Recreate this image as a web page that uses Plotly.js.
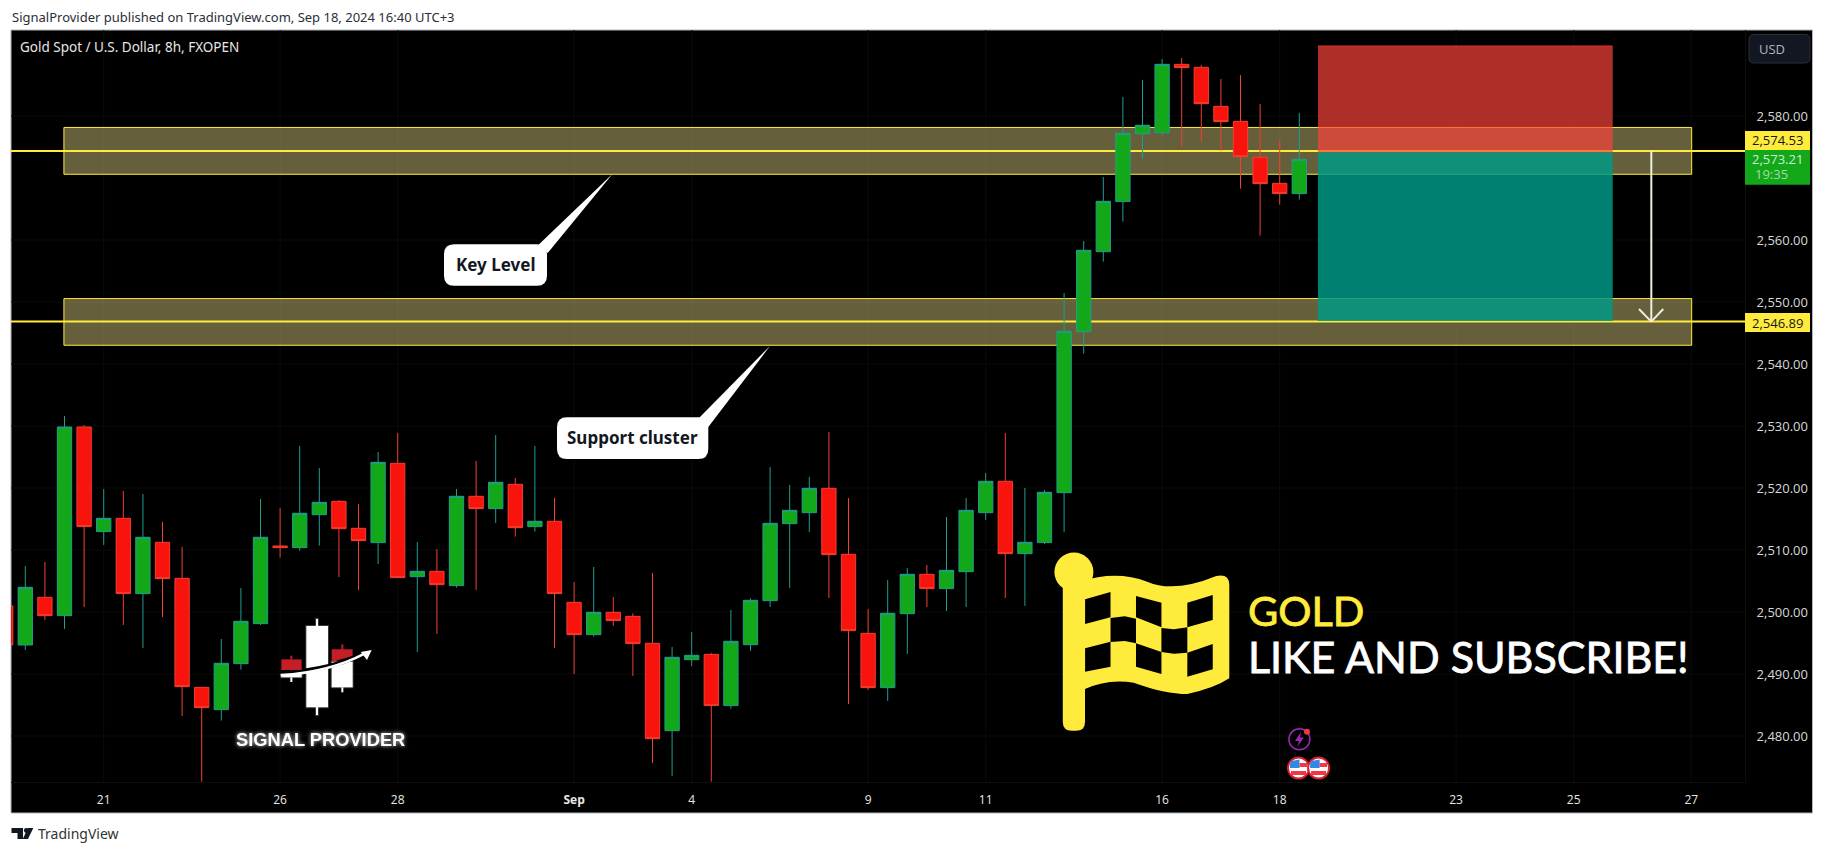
<!DOCTYPE html>
<html><head><meta charset="utf-8">
<script src="https://cdn.plot.ly/plotly-3.0.1.min.js"></script>
<style>html,body{margin:0;padding:0;background:#fff}#c{width:1824px;height:853px}</style>
</head><body><div id="c"></div>
<script>
const open_ = [2500.97,2494.68,2502.37,2499.41,2529.84,2512.96,2515.11,2502.96,2511.24,2505.43,2487.85,2484.25,2491.67,2498.12,2510.65,2510.38,2515.70,2517.85,2513.50,2511.19,2523.98,2505.70,2506.56,2504.25,2518.66,2516.67,2520.59,2513.77,2514.63,2501.56,2496.35,2499.95,2499.30,2494.95,2480.86,2492.31,2493.17,2484.90,2494.73,2501.83,2514.25,2516.02,2519.95,2509.30,2496.56,2487.80,2499.73,2506.08,2503.77,2506.51,2516.02,2521.08,2509.41,2511.19,2519.25,2545.22,2558.12,2566.19,2577.15,2577.31,2588.33,2587.85,2581.56,2579.14,2573.34,2569.14,2567.48];
const close_ = [2494.68,2503.98,2499.41,2529.84,2513.77,2515.11,2502.96,2512.05,2505.38,2487.96,2484.57,2491.72,2498.50,2512.05,2510.38,2515.92,2517.69,2513.44,2511.51,2524.14,2505.54,2506.56,2504.41,2518.66,2516.67,2520.92,2513.60,2514.63,2502.96,2496.35,2499.95,2498.61,2494.90,2479.57,2492.69,2493.01,2484.90,2495.27,2501.88,2514.30,2516.40,2519.95,2509.25,2496.99,2487.80,2499.79,2506.08,2503.77,2506.72,2516.40,2521.08,2509.41,2511.24,2519.30,2545.27,2558.34,2566.24,2577.21,2578.50,2588.33,2587.80,2581.99,2579.09,2573.44,2569.09,2567.48,2573.01];
const high_ = [2503.00,2507.42,2508.07,2531.61,2530.16,2519.84,2519.52,2519.03,2514.52,2510.49,2487.91,2495.65,2503.87,2518.23,2516.78,2526.78,2523.23,2518.07,2517.42,2525.81,2528.87,2511.29,2510.16,2519.84,2524.36,2528.55,2521.61,2526.78,2518.39,2504.84,2507.26,2502.42,2499.79,2506.29,2494.36,2496.78,2493.39,2500.33,2502.21,2523.39,2520.49,2521.78,2529.03,2518.39,2500.49,2505.16,2507.10,2507.58,2515.32,2518.39,2522.42,2528.87,2520.00,2519.68,2551.45,2559.84,2570.16,2583.07,2585.81,2589.19,2589.36,2588.23,2585.97,2586.61,2581.94,2576.13,2580.49];
const low_ = [2493.30,2493.87,2498.71,2497.26,2500.81,2510.81,2497.91,2494.20,2499.20,2483.23,2472.64,2482.48,2490.70,2497.91,2508.77,2509.89,2510.70,2505.65,2503.55,2507.74,2505.49,2493.55,2496.45,2503.93,2503.55,2514.36,2512.15,2512.96,2494.20,2490.00,2496.02,2497.75,2489.68,2475.65,2473.55,2491.29,2472.64,2484.41,2493.71,2500.81,2503.87,2512.91,2502.26,2485.17,2487.42,2485.65,2493.23,2500.81,2500.16,2500.81,2514.84,2502.26,2500.97,2510.97,2512.91,2541.67,2556.51,2562.96,2573.12,2576.94,2575.06,2575.86,2574.41,2568.28,2560.70,2565.70,2566.51];
const xIndex = open_.map((_, i) => i);
const xTickVals = [5,14,20,29,35,44,50,59,65,74,80,86];
const xTickText = ['21','26','28','<b>Sep</b>','4','9','11','16','18','23','25','27'];
const yTickVals = [2480,2490,2500,2510,2520,2530,2540,2550,2560,2580];
const yTickText = ['2,480.00','2,490.00','2,500.00','2,510.00','2,520.00','2,530.00','2,540.00','2,550.00','2,560.00','2,580.00'];
const upperZone = [2570.6, 2578.15];
const lowerZone = [2543.02, 2550.55];
const levelLines = [2574.35, 2546.84];
const tradeBox = {entry: 2574.15, stop: 2591.29, target: 2546.94};

const L=11,R=1745,T=30,B=782;
const PX=x=>(x-L)/(R-L), PY=y=>(B-y)/(B-T);
const pt=(x,y)=>PX(x).toFixed(5)+','+PY(y).toFixed(5);
const poly=pts=>'M'+pts.map(p=>pt(p[0],p[1])).join(' L')+' Z';
const shapes=[];
function pathS(d,fill,line,lw,layer){shapes.push({type:'path',xref:'paper',yref:'paper',path:d,fillcolor:fill||'rgba(0,0,0,0)',line:{color:line||'rgba(0,0,0,0)',width:lw||0},layer:layer||'above'});}
function rectS(x0,y0,x1,y1,fill,line,lw,layer){shapes.push({type:'rect',xref:'paper',yref:'paper',x0:PX(x0),x1:PX(x1),y0:PY(y0),y1:PY(y1),fillcolor:fill||'rgba(0,0,0,0)',line:{color:line||'rgba(0,0,0,0)',width:lw||0},layer:layer||'above'});}
function circS(cx,cy,r,fill,line,lw){shapes.push({type:'circle',xref:'paper',yref:'paper',x0:PX(cx-r),x1:PX(cx+r),y0:PY(cy-r),y1:PY(cy+r),fillcolor:fill,line:{color:line||'rgba(0,0,0,0)',width:lw||0},layer:'above'});}
function rrect(x0,y0,x1,y1,r){return 'M'+pt(x0+r,y0)+' L'+pt(x1-r,y0)+' Q'+pt(x1,y0)+' '+pt(x1,y0+r)+' L'+pt(x1,y1-r)+' Q'+pt(x1,y1)+' '+pt(x1-r,y1)+' L'+pt(x0+r,y1)+' Q'+pt(x0,y1)+' '+pt(x0,y1-r)+' L'+pt(x0,y0+r)+' Q'+pt(x0,y0)+' '+pt(x0+r,y0)+' Z';}

// panel
rectS(11,30,1812.5,813,'#000','#b2b5be',1,'below');

// faint grid below the zones
xTickVals.forEach(v=>shapes.push({type:'line',xref:'x',yref:'paper',x0:v,x1:v,y0:0,y1:1,line:{color:'#0b0b0b',width:1},layer:'below'}));
yTickVals.forEach(v=>shapes.push({type:'line',xref:'paper',yref:'y',x0:0,x1:1,y0:v,y1:v,line:{color:'#0b0b0b',width:1},layer:'below'}));

// zones, level lines and trade box drawn from price values
function dataRect(x0,x1,y0,y1,fill,lc,lw){shapes.push({type:'rect',xref:'x',yref:'y',x0,x1,y0,y1,fillcolor:fill,line:{color:lc||'rgba(0,0,0,0)',width:lw||0},layer:'below'});}
function dataLine(x0,x1,y0,y1,c,w,layer){shapes.push({type:'line',xref:'x',yref:'y',x0,x1,y0,y1,line:{color:c,width:w},layer:layer||'below'});}
const zoneFill='rgba(255,238,150,0.40)';
dataRect(2.97,86.02,upperZone[0],upperZone[1],zoneFill,'#ffeb3b',1);
dataRect(2.97,86.02,lowerZone[0],lowerZone[1],zoneFill,'#ffeb3b',1);
dataLine(0,89,levelLines[0],levelLines[0],'#ffeb3b',2);
dataLine(0,89,levelLines[1],levelLines[1],'#ffeb3b',2);
dataRect(66.95,81.99,tradeBox.entry,tradeBox.stop,'rgba(252,67,58,0.69)');
dataRect(66.95,81.99,tradeBox.target,tradeBox.entry,'rgba(0,152,133,0.84)');
dataLine(66.95,81.99,tradeBox.stop,tradeBox.stop,'#e03028',1);
// target arrow
dataLine(83.96,83.96,tradeBox.entry+0.3,levelLines[1],'#eeeede',2,'above');
dataLine(83.33,83.96,2548.87,levelLines[1],'#eeeede',2,'above');
dataLine(84.57,83.96,2548.87,levelLines[1],'#eeeede',2,'above');

// price labels
rectS(1745,131,1810,150,'#ffeb3b');
rectS(1745,150,1810,184.7,'#12a81a');
rectS(1745,313,1810,332,'#ffeb3b');
pathS(rrect(1749,34.5,1810,63,5),'#131722','#2a2e39',1);

// callouts
pathS(rrect(444,244.3,547,285.7,10),'#fff');
pathS(poly([[538.3,245],[612.7,173.7],[547.7,253]]),'#fff');
pathS(rrect(557,417.3,708.3,459,10),'#fff');
pathS(poly([[699,418],[770,346],[708.3,427]]),'#fff');

// flag
const F=(x,y)=>[1040+x/2.24,540+y/3];
const fp=(x,y)=>{const p=F(x,y);return pt(p[0],p[1]);};
const Y='#ffeb3b';
circS(1073.9,572,19.5,Y);
pathS(rrect(1062.8,572,1085,730.7,9),Y);
pathS('M'+fp(90,125)+' Q'+fp(170,90)+' '+fp(240,125)+' Q'+fp(300,160)+' '+fp(395,108)+' Q'+fp(424,100)+' '+fp(424,135)+' L'+fp(424,415)+' Q'+fp(390,445)+' '+fp(330,462)+' Q'+fp(280,462)+' '+fp(210,428)+' Q'+fp(150,415)+' '+fp(95,450)+' Z',Y);
const cells=[
 [[101,178],[158,156],[158,232],[101,252]],
 [[215,168],[272,188],[272,262],[215,232]],
 [[330,188],[387,165],[387,240],[330,262]],
 [[158,234],[190,229],[215,236],[215,310],[190,303],[158,306]],
 [[272,264],[300,268],[330,262],[330,338],[300,341],[272,336]],
 [[101,325],[158,305],[158,380],[101,395]],
 [[215,310],[272,336],[272,402],[215,380]],
 [[330,338],[387,312],[387,388],[330,410]]
];
cells.forEach(c=>pathS(poly(c.map(p=>F(p[0],p[1]))),'#000'));

// logo
const Lg=(x,y)=>[230+x/3,600+y/3];
const lr=(a,b,c,d,f,s,w)=>{const p=Lg(a,b),q=Lg(c,d);rectS(p[0],p[1],q[0],q[1],f,s,w);};
const lp=(x,y)=>{const p=Lg(x,y);return pt(p[0],p[1]);};
const glow='rgba(255,255,255,0.22)';
lr(258,57,264,345,'#fff',glow,2);
lr(229,78,294,322,'#fff',glow,2);
lr(305,185,368,262,'#fff',glow,2);
lr(334,262,340,277,'#fff');
lr(154,222,215,232,'#fff',glow,2);
lr(181,232,187,246,'#fff');
lr(154,178,215,210,'#c41e26');
lr(181,167,187,178,'#c41e26');
lr(334,133,340,150,'#c41e26');
pathS(poly([Lg(305,148),Lg(368,148),Lg(368,168),Lg(305,186)]),'#c41e26');
pathS('M'+lp(225,212)+' Q'+lp(300,203)+' '+lp(375,172),'rgba(0,0,0,0)','#000',4.5);
pathS('M'+lp(152,226)+' Q'+lp(300,216)+' '+lp(405,160),'rgba(0,0,0,0)','#fff',2.5);
pathS(poly([Lg(425,150),Lg(392,156),Lg(411,180)]),'#fff');

// event markers
circS(1299.4,739.3,10.5,'#000','#9c27b0',1.5);
pathS(poly([[1301,732],[1295,741],[1299,741],[1297,747],[1304,737.5],[1300,737.5]]),'#9c27b0');
circS(1307,731.7,3,'#f23645');
function usFlag(cx,cy){
  circS(cx,cy,10.5,'#fff','#d8202e',2);
  pathS(poly([[cx-7,cy-7],[cx+1,cy-8.5],[cx+1,cy],[cx-8.5,cy],[cx-8.5,cy-4]]),'#2e8ae6');
  rectS(cx+1,cy-5,cx+8.5,cy-1,'#f23645');
  rectS(cx-7.5,cy+3,cx+7.5,cy+7,'#f23645');
}
usFlag(1298.5,768);usFlag(1318.6,768);

// TradingView logo
pathS(poly([[11.5,828],[23,828],[23,839],[17.5,839],[17.5,833],[11.5,833]]),'#131722');
circS(26.3,830.5,2.4,'#131722');
pathS(poly([[33.3,828],[28,839],[22.8,839],[27.8,828]]),'#131722');

const anns=[];
function A(text,x,y,size,color,anchor,family,extra){anns.push(Object.assign({text,xref:'paper',yref:'paper',x:PX(x),y:PY(y),xanchor:anchor||'left',yanchor:'middle',showarrow:false,font:{size,color,family:family||'Open Sans'}},extra||{}));}
A('SignalProvider published on TradingView.com, Sep 18, 2024 16:40 UTC+3',10,17,13,'#2a2e39','left','Noto Sans');
A('Gold Spot / U.S. Dollar, 8h, FXOPEN',18,47,13.5,'#e6e6e6','left','Noto Sans');
A('TradingView',36,834,14,'#333','left','Noto Sans');
A('USD',1757,49,13,'#b2b5be','left');
A('2,574.53',1805,140,13,'#131722','right');
A('2,573.21',1805,159,13,'#cfeed0','right');
A('19:35',1753,174,13,'#a5dba8','left');
A('2,546.89',1805,322.5,13,'#131722','right');
A('<b>Key Level</b>',495.5,264.5,17,'#131722','center','Noto Sans');
A('<b>Support cluster</b>',632.5,437.5,17,'#131722','center','Noto Sans');
A('GOLD',1246,610,41.5,'#ffeb3b','left','Lato');
A('LIKE AND SUBSCRIBE!',1246,656,43,'#ffffff','left','Lato');
A('<b>SIGNAL PROVIDER</b>',320.5,739.3,18.3,'#fff','center','Liberation Sans');

const trace={type:'candlestick',x:xIndex,open:open_,high:high_,low:low_,close:close_,whiskerwidth:0,hoverinfo:'skip',
 increasing:{line:{color:'#1f9e8e',width:1},fillcolor:'#12a81a'},
 decreasing:{line:{color:'#f23f30',width:1},fillcolor:'#f8140c'}};
const layout={width:1824,height:853,margin:{l:L,r:1824-R,t:T,b:853-B,pad:0},paper_bgcolor:'#fff',plot_bgcolor:'#000',showlegend:false,boxgap:0.27,boxgroupgap:0,shapes,annotations:anns,
 font:{family:'Open Sans',size:12,color:'#e8e8e8'},
 xaxis:{range:[0.27,88.74],tickmode:'array',tickvals:xTickVals,ticktext:xTickText,ticks:'',ticklabelstandoff:7,tickfont:{size:12,color:'#e8e8e8'},showgrid:false,zeroline:false,showline:true,linecolor:'#0e0e0e',rangeslider:{visible:false},fixedrange:true},
 yaxis:{range:[2472.58,2593.87],side:'right',tickmode:'array',tickvals:yTickVals,ticktext:yTickText,ticks:'',ticklabelstandoff:8,tickfont:{size:13,color:'#d8d8d8'},showgrid:false,zeroline:false,showline:true,linecolor:'#0e0e0e',fixedrange:true}};
Plotly.newPlot('c',[trace],layout,{displayModeBar:false,staticPlot:true}).then(()=>{
 document.querySelectorAll('.annotation').forEach(g=>{
  const s=g.textContent;
  if(s.indexOf('SIGNAL PROVIDER')>=0)g.style.filter='drop-shadow(0 0 2px rgba(255,255,255,.8))';
  if(s==='GOLD'||s.indexOf('LIKE AND')===0){const t=g.querySelector('text');t.style.stroke=s==='GOLD'?'#ffeb3b':'#fff';t.style.strokeWidth='0.8px';}
 });
});
</script></body></html>
